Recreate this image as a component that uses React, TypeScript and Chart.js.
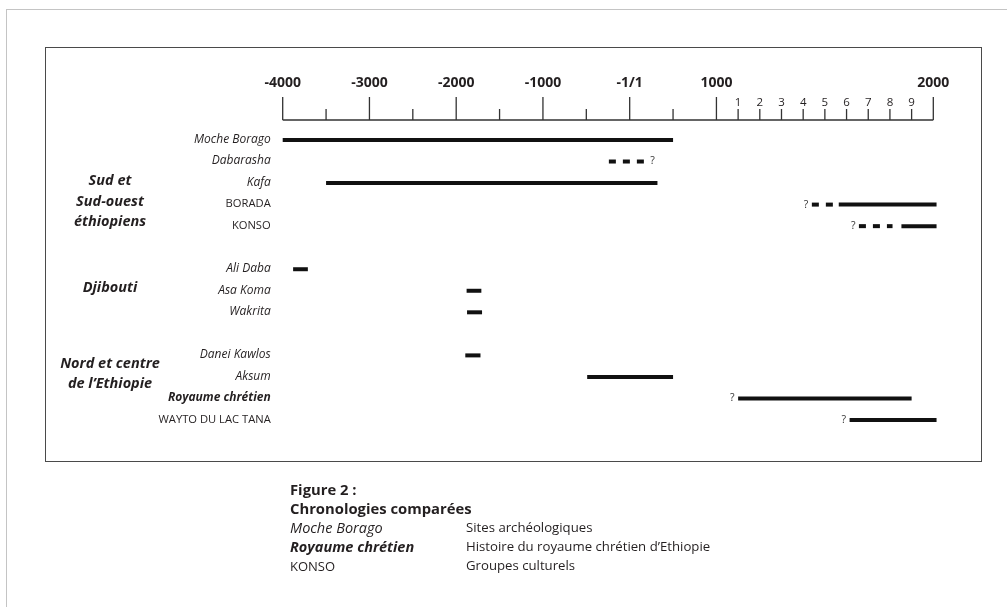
import { useEffect, useRef } from 'react';
import {
  Chart,
  LinearScale,
  CategoryScale,
  LineController,
  LineElement,
  PointElement,
} from 'chart.js';

// ---------------- data ----------------
const ROWS = [
  'Moche Borago',
  'Dabarasha',
  'Kafa',
  'BORADA',
  'KONSO',
  ' ',
  'Ali Daba',
  'Asa Koma',
  'Wakrita',
  '  ',
  'Danei Kawlos',
  'Aksum',
  'Royaume chrétien',
  'WAYTO DU LAC TANA',
];
const ROW_KIND = [
  'site', 'site', 'site', 'group', 'group', 'blank',
  'site', 'site', 'site', 'blank',
  'site', 'site', 'history', 'group',
];

// solid (attested) periods, in years
const SOLID_ROWS = [
  'Moche Borago', 'Kafa', 'BORADA', 'KONSO', 'Ali Daba', 'Asa Koma',
  'Wakrita', 'Danei Kawlos', 'Aksum', 'Royaume chrétien', 'WAYTO DU LAC TANA',
];
const SOLID_START = [-4000, -3500, 1564, 1853, -3880, -1880, -1875, -1895, -490, 1100, 1614];
const SOLID_END = [500, 320, 2015, 2015, -3710, -1710, -1702, -1720, 500, 1900, 2015];

// dashed (uncertain) periods, in years
const DASHED_ROWS = ['Dabarasha', 'BORADA', 'KONSO'];
const DASHED_START = [-240, 1440, 1657];
const DASHED_END = [190, 1564, 1812];

// question marks
const QUERY_ROWS = ['Dabarasha', 'BORADA', 'KONSO', 'Royaume chrétien', 'WAYTO DU LAC TANA'];
const QUERY_YEAR = [190, 1440, 1657, 1100, 1614];
const QUERY_SIDE = ['after', 'before', 'before', 'before', 'before'];

// axis ticks
const MAJOR_TICKS = [-4000, -3000, -2000, -1000, 0, 1000, 2000];
const MAJOR_LABELS = ['-4000', '-3000', '-2000', '-1000', '-1/1', '1000', '2000'];
const MINOR_TICKS = [-3500, -2500, -1500, -500, 500];
const CENTURY_TICKS = [1100, 1200, 1300, 1400, 1500, 1600, 1700, 1800, 1900];
const CENTURY_LABELS = ['1', '2', '3', '4', '5', '6', '7', '8', '9'];

// regions
const REGION_LINES = [['Sud et', 'Sud-ouest', 'éthiopiens'], ['Djibouti'], ['Nord et centre', 'de l’Ethiopie']];
const REGION_ROWS = ['BORADA', 'Asa Koma', 'Aksum'];

// key
const KEY_SAMPLES = ['Moche Borago', 'Royaume chrétien', 'KONSO'];
const KEY_KINDS = ['site', 'history', 'group'];
const KEY_MEANINGS = ['Sites archéologiques', 'Histoire du royaume chrétien d’Ethiopie', 'Groupes culturels'];

// ---------------- styling ----------------
const FONT = '"Open Sans", "Noto Sans", sans-serif';
const INK = '#231f20';
const LINE_INK = '#111111';
const AXIS_INK = '#333333';
const LINE_W = 4;
const DASH = [7, 7];
const AXIS_GAP = 9.2;
const LABEL_SHIFT = -0.5;
const REGION_SHIFT = -3;

// scale after 1000 AD is stretched
const BREAK_YEAR = 1000;
const STRETCH = 2.5;
const toAxis = (y: number) => (y <= BREAK_YEAR ? y : BREAK_YEAR + (y - BREAK_YEAR) * STRETCH);
const fromAxis = (a: number) => (a <= BREAK_YEAR ? a : BREAK_YEAR + (a - BREAK_YEAR) / STRETCH);

class TimelineScale extends LinearScale {
  static id = 'timeline';
  static defaults = LinearScale.defaults;
  getPixelForValue(value: number) {
    return super.getPixelForValue(toAxis(value));
  }
  getValueForPixel(pixel: number) {
    return fromAxis(super.getValueForPixel(pixel) as number);
  }
}

Chart.register(LinearScale, CategoryScale, LineController, LineElement, PointElement, TimelineScale);

function rowFont(kind: string, size = 12) {
  if (kind === 'site') return { family: FONT, size, style: 'italic' as const, weight: 'normal' as const };
  if (kind === 'history') return { family: FONT, size, style: 'italic' as const, weight: 'bold' as const };
  return { family: FONT, size: size - 0.8, style: 'normal' as const, weight: 'normal' as const };
}

const axisPlugin = {
  id: 'timelineAxis',
  afterDraw(chart: any) {
    const { ctx, chartArea } = chart;
    const x = chart.scales.x;
    const base = chartArea.top - AXIS_GAP;
    ctx.save();
    ctx.strokeStyle = AXIS_INK;
    ctx.lineWidth = 1.3;
    ctx.beginPath();
    ctx.moveTo(x.getPixelForValue(MAJOR_TICKS[0]), base);
    ctx.lineTo(x.getPixelForValue(MAJOR_TICKS[MAJOR_TICKS.length - 1]), base);
    MAJOR_TICKS.forEach((v) => {
      const px = x.getPixelForValue(v);
      ctx.moveTo(px, base);
      ctx.lineTo(px, base - 23);
    });
    [...MINOR_TICKS, ...CENTURY_TICKS].forEach((v) => {
      const px = x.getPixelForValue(v);
      ctx.moveTo(px, base);
      ctx.lineTo(px, base - 11);
    });
    ctx.stroke();

    ctx.fillStyle = INK;
    ctx.textAlign = 'center';
    ctx.textBaseline = 'middle';
    ctx.font = `bold 14px ${FONT}`;
    MAJOR_TICKS.forEach((v, i) => {
      ctx.fillText(MAJOR_LABELS[i], x.getPixelForValue(v), base - 37);
    });
    ctx.font = `11.5px ${FONT}`;
    CENTURY_TICKS.forEach((v, i) => {
      ctx.fillText(CENTURY_LABELS[i], x.getPixelForValue(v), base - 17);
    });
    ctx.restore();
  },
};

const notesPlugin = {
  id: 'timelineNotes',
  afterDraw(chart: any) {
    const { ctx } = chart;
    const x = chart.scales.x;
    const y = chart.scales.y;
    ctx.save();
    // question marks
    ctx.fillStyle = '#333333';
    ctx.textBaseline = 'middle';
    ctx.font = `10.5px ${FONT}`;
    QUERY_ROWS.forEach((row, i) => {
      const px = x.getPixelForValue(QUERY_YEAR[i]);
      const py = y.getPixelForValue(ROWS.indexOf(row));
      if (QUERY_SIDE[i] === 'after') {
        ctx.textAlign = 'left';
        ctx.fillText('?', px + 4, py);
      } else {
        ctx.textAlign = 'right';
        ctx.fillText('?', px - 3.5, py);
      }
    });
    // region names
    ctx.fillStyle = INK;
    ctx.textAlign = 'center';
    ctx.font = `italic bold 14.5px ${FONT}`;
    REGION_LINES.forEach((lines, i) => {
      const cy = y.getPixelForValue(ROWS.indexOf(REGION_ROWS[i])) + REGION_SHIFT;
      lines.forEach((t, j) => {
        ctx.fillText(t, 110, cy + (j - (lines.length - 1) / 2) * 20.7);
      });
    });
    ctx.restore();
  },
};

function lineSet(row: string, start: number, end: number, dashed: boolean) {
  return {
    data: [
      { x: start, y: row },
      { x: end, y: row },
    ],
    borderColor: LINE_INK,
    borderWidth: LINE_W,
    borderCapStyle: 'butt' as const,
    borderDash: dashed ? DASH : [],
    pointRadius: 0,
    clip: false as const,
    tension: 0,
  };
}

function ChronoChart() {
  const ref = useRef<HTMLCanvasElement | null>(null);
  useEffect(() => {
    if (!ref.current) return;
    const datasets = [
      ...SOLID_ROWS.map((r, i) => lineSet(r, SOLID_START[i], SOLID_END[i], false)),
      ...DASHED_ROWS.map((r, i) => lineSet(r, DASHED_START[i], DASHED_END[i], true)),
    ];
    const chart = new Chart(ref.current, {
      type: 'line',
      data: { datasets: datasets as any },
      options: {
        animation: false,
        responsive: false,
        events: [],
        layout: { padding: { top: 129.2, right: 73.7, bottom: 176.2, left: 0 } },
        scales: {
          x: {
            type: 'timeline' as any,
            min: toAxis(-4000),
            max: toAxis(2000),
            display: false,
          },
          y: {
            type: 'category',
            labels: ROWS,
            offset: true,
            position: 'left',
            grid: { display: false, drawTicks: false },
            border: { display: false },
            ticks: {
              autoSkip: false,
              padding: 12,
              labelOffset: LABEL_SHIFT,
              color: INK,
              font: (c: any) => rowFont(ROW_KIND[c.index] || 'site'),
            },
            afterFit: (s: any) => {
              s.width = 282.7;
            },
          } as any,
        },
        plugins: {},
      } as any,
      plugins: [axisPlugin, notesPlugin],
    });
    return () => chart.destroy();
  }, []);
  return (
    <canvas
      ref={ref}
      width={1007}
      height={607}
      style={{ position: 'absolute', left: 0, top: 0, width: 1007, height: 607 }}
    />
  );
}

function keyStyle(kind: string): React.CSSProperties {
  if (kind === 'site') return { fontStyle: 'italic', fontSize: 14.5 };
  if (kind === 'history') return { fontStyle: 'italic', fontWeight: 700, fontSize: 14.5 };
  return { fontSize: 13 };
}

export default function App() {
  const lineH = 19;
  return (
    <div
      style={{
        position: 'fixed',
        left: 0,
        top: 0,
        width: 1007,
        height: 607,
        background: '#fff',
        overflow: 'hidden',
        fontFamily: FONT,
        color: INK,
      }}
    >
      <div
        style={{
          position: 'absolute',
          left: 6,
          top: 9,
          right: -2,
          bottom: -2,
          borderTop: '1px solid #c4c4c4',
          borderLeft: '1px solid #c4c4c4',
        }}
      />
      <div
        style={{
          position: 'absolute',
          left: 45,
          top: 46.5,
          width: 937,
          height: 415.5,
          border: '1.6px solid #4a4a4a',
          boxSizing: 'border-box',
        }}
      />
      <ChronoChart />
      <div
        style={{
          position: 'absolute',
          left: 290,
          top: 489 - lineH / 2,
          fontSize: 14.8,
          lineHeight: `${lineH}px`,
          whiteSpace: 'nowrap',
        }}
      >
        <div style={{ fontWeight: 700 }}>Figure 2 :</div>
        <div style={{ fontWeight: 700 }}>Chronologies comparées</div>
        {KEY_SAMPLES.map((s, i) => (
          <div key={s} style={{ position: 'relative', height: lineH }}>
            <span style={keyStyle(KEY_KINDS[i])}>{s}</span>
            <span style={{ position: 'absolute', left: 466 - 290, fontSize: 13.2 }}>{KEY_MEANINGS[i]}</span>
          </div>
        ))}
      </div>
    </div>
  );
}
